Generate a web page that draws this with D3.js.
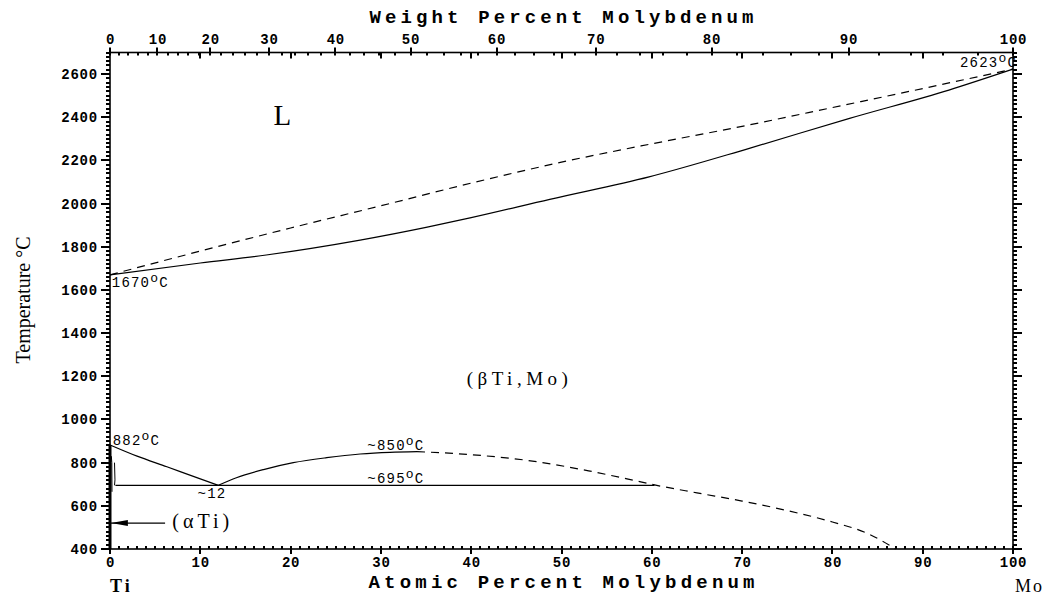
<!DOCTYPE html>
<html>
<head>
<meta charset="utf-8">
<script src="https://cdn.jsdelivr.net/npm/d3@7"></script>
<style>
  body { margin: 0; background: #fff; }
  text { fill: #000; }
</style>
</head>
<body>
<script>
// Ti-Mo phase diagram
var svgWidth = 1049
var svgHeight = 596

// tick values
var tempTicks = [400, 600, 800, 1000, 1200, 1400, 1600, 1800, 2000, 2200, 2400, 2600]
var atTicks = [0, 10, 20, 30, 40, 50, 60, 70, 80, 90, 100]
var wtTicks = [0, 10, 20, 30, 40, 50, 60, 70, 80, 90, 100]

// atomic masses, for the weight percent axis
var massMo = 95.95
var massTi = 47.867

// boundaries as [atomic % Mo, temperature C]
var liquidus = [[0, 1670], [10, 1780], [20, 1887], [30, 1990], [40, 2095], [50, 2192], [60, 2277],
  [70, 2358], [80, 2445], [90, 2533], [100, 2623]]
var solidus = [[0, 1670], [10, 1725], [17.3, 1762], [27.7, 1831], [35, 1890], [40, 1935], [48.7, 2020],
  [59.7, 2124], [70.8, 2256], [81.9, 2395], [92.9, 2526], [100, 2623]]
var betaTransus = [[0, 882], [3, 830], [6.3, 781], [9, 740], [12, 695]]
var gapSolid = [[12, 695], [14, 730], [17, 768], [20.3, 800], [24, 823], [27.7, 840], [31, 848], [34, 851]]
var gapDashed = [[34, 851], [40, 837], [47, 806], [53, 762], [58, 718], [60.3, 697], [65, 660], [70, 622],
  [75, 578], [80, 525], [84, 470], [87, 400]]
var monotectoid = [[0.6, 695], [60.3, 695]]
var alphaTi = [[0, 400], [0, 882]]
var alphaSolvus1 = [[0.15, 830], [0.2, 800], [0.22, 665]]
var alphaSolvus2 = [[0.5, 800], [0.55, 720], [0.5, 695]]
var alphaArrow = [[6.1, 520], [0.1, 520]]

// labels: [text, atomic %, temperature, degree sign]
var notes = [
  ["1670", 0.2, 1613, true],
  ["882", 0.3, 882, true],
  ["~12", 9.7, 636, false],
  ["~850", 28.5, 860, true],
  ["~695", 28.5, 708, true]
]

var x = d3.scaleLinear().domain([0, 100]).range([110, 1013])
var y = d3.scaleLinear().domain([400, 2700]).range([549, 52.5])

function wtToAt(w) {
  if (w >= 100) return 100
  var a = w / massMo, b = (100 - w) / massTi
  return 100 * a / (a + b)
}

var svg = d3.select("body").append("svg")
    .attr("width", svgWidth)
    .attr("height", svgHeight)

svg.append("rect").attr("width", svgWidth).attr("height", svgHeight).attr("fill", "#fff")

var mono = "'Liberation Mono', 'DejaVu Sans Mono', monospace"
var serif = "'Liberation Serif', 'DejaVu Serif', serif"

// axis labels (tick marks drawn below)
function styleAxis(g) {
  g.select(".domain").remove()
  g.selectAll(".tick line").remove()
  g.selectAll(".tick text")
    .attr("font-family", mono)
    .attr("font-size", 14)
    .attr("font-weight", "bold")
    .attr("letter-spacing", 0.8)
    .attr("fill", "#000")
}

svg.append("g").attr("transform", "translate(" + x(0) + ",0)")
  .call(d3.axisLeft(y).tickValues(tempTicks).tickSize(0).tickPadding(12).tickFormat(d3.format("d")))
  .call(styleAxis)
svg.append("g").attr("transform", "translate(0," + y(400) + ")")
  .call(d3.axisBottom(x).tickValues(atTicks).tickSize(0).tickPadding(8).tickFormat(d3.format("d")))
  .call(styleAxis)
svg.append("g").attr("transform", "translate(0," + y(2700) + ")")
  .call(d3.axisTop(x).tickValues(wtTicks.map(wtToAt)).tickSize(0).tickPadding(9)
    .tickFormat(function(d, i) { return wtTicks[i] }))
  .call(styleAxis)

// tick marks as thin filled rects
var tickLayer = svg.append("g").attr("fill", "#000")

function vTicks(vals, px, len) {
  tickLayer.append("g").selectAll("rect").data(vals).join("rect")
    .attr("x", len < 0 ? px + len : px)
    .attr("width", Math.abs(len))
    .attr("y", function(d) { return Math.round(y(d)) - 1 })
    .attr("height", 2)
}
function hTicks(vals, py, len) {
  tickLayer.append("g").selectAll("rect").data(vals).join("rect")
    .attr("y", len < 0 ? py + len : py)
    .attr("height", Math.abs(len))
    .attr("x", function(d) { return Math.round(x(d)) - 1 })
    .attr("width", 2)
}

var tempMinor = d3.range(400, 2701, 20)
vTicks(tempMinor, x(0), -4)
vTicks(tempTicks, x(0), -9)
vTicks(tempMinor, x(100), 4)
vTicks(tempTicks, x(100), 9)
hTicks(d3.range(0, 101, 1), y(400), -3)
hTicks(atTicks, y(400), 5)
hTicks(d3.range(0, 101, 2).map(wtToAt), y(2700), 3)
hTicks(atTicks.slice(1, 10), y(2700), 6)
hTicks(wtTicks.map(wtToAt), y(2700), -5)

// frame
svg.append("rect")
    .attr("x", x(0)).attr("y", y(2700))
    .attr("width", x(100) - x(0)).attr("height", y(400) - y(2700))
    .attr("fill", "none").attr("stroke", "#000").attr("stroke-width", 1.6)

// boundaries
var line = d3.line().x(function(d) { return x(d[0]) }).y(function(d) { return y(d[1]) })
var curve = d3.line().x(function(d) { return x(d[0]) }).y(function(d) { return y(d[1]) }).curve(d3.curveMonotoneX)

function draw(data, gen, dash, w) {
  svg.append("path")
    .attr("d", gen(data))
    .attr("fill", "none")
    .attr("stroke", "#000")
    .attr("stroke-width", w || 1.2)
    .attr("stroke-dasharray", dash || null)
}

draw(liquidus, curve, "8,6")
draw(solidus, curve)
draw(betaTransus, curve)
draw(gapSolid, curve)
draw(gapDashed, curve, "8,6")
draw(monotectoid, line)
draw(alphaTi, line, null, 3)
draw(alphaSolvus1, line, null, 1)
draw(alphaSolvus2, line, null, 1)
draw(alphaArrow, line)

// arrow head
var tip = alphaArrow[1]
svg.append("path")
    .attr("d", "M" + x(tip[0]) + "," + y(tip[1]) +
      "L" + (x(tip[0]) + 17) + "," + (y(tip[1]) - 3) +
      "L" + (x(tip[0]) + 17) + "," + (y(tip[1]) + 3) + "Z")
    .attr("fill", "#000")

// temperature notes with raised "o"
function degText(g, str, deg) {
  g.append("tspan").text(str)
  if (deg) {
    g.append("tspan").attr("dy", -5).attr("font-size", 13).text("o")
    g.append("tspan").attr("dy", 5).text("C")
  }
}

notes.forEach(function(n) {
  var t = svg.append("text")
      .attr("x", x(n[1])).attr("y", y(n[2]))
      .attr("font-family", mono).attr("font-size", 14).attr("letter-spacing", 1.2)
  degText(t, n[0], n[3])
})

var t2623 = svg.append("text")
    .attr("x", x(100) + 4).attr("y", y(2632))
    .attr("text-anchor", "end")
    .attr("font-family", mono).attr("font-size", 14).attr("letter-spacing", 1.2)
degText(t2623, "2623", true)

// phase labels
svg.append("text").attr("x", x(19.1)).attr("y", y(2364))
    .attr("text-anchor", "middle").attr("font-family", serif).attr("font-size", 29)
    .text("L")
svg.append("text").attr("x", x(39.5)).attr("y", y(1160))
    .attr("font-family", serif).attr("font-size", 19).attr("letter-spacing", 4.5)
    .text("(\u03b2Ti,Mo)")
svg.append("text").attr("x", x(6.9)).attr("y", y(497))
    .attr("font-family", serif).attr("font-size", 20).attr("letter-spacing", 4)
    .text("(\u03b1Ti)")

// axis titles
svg.append("text").attr("x", (x(0) + x(100)) / 2).attr("y", 23)
    .attr("text-anchor", "middle").attr("font-family", mono).attr("font-size", 19).attr("font-weight", "bold")
    .attr("textLength", 384).attr("lengthAdjust", "spacing")
    .text("Weight Percent Molybdenum")
svg.append("text").attr("x", (x(0) + x(100)) / 2).attr("y", 588)
    .attr("text-anchor", "middle").attr("font-family", mono).attr("font-size", 19).attr("font-weight", "bold")
    .attr("textLength", 386).attr("lengthAdjust", "spacing")
    .text("Atomic Percent Molybdenum")
svg.append("text")
    .attr("transform", "translate(30,300) rotate(-90)")
    .attr("text-anchor", "middle").attr("font-family", serif).attr("font-size", 20)
    .text("Temperature \u00b0C")

svg.append("text").attr("x", x(0)).attr("y", 592)
    .attr("font-family", serif).attr("font-size", 18).attr("font-weight", "bold").attr("letter-spacing", 3)
    .text("Ti")
svg.append("text").attr("x", x(100) + 2).attr("y", 592)
    .attr("font-family", serif).attr("font-size", 18).attr("letter-spacing", 2)
    .text("Mo")
</script>
</body>
</html>
